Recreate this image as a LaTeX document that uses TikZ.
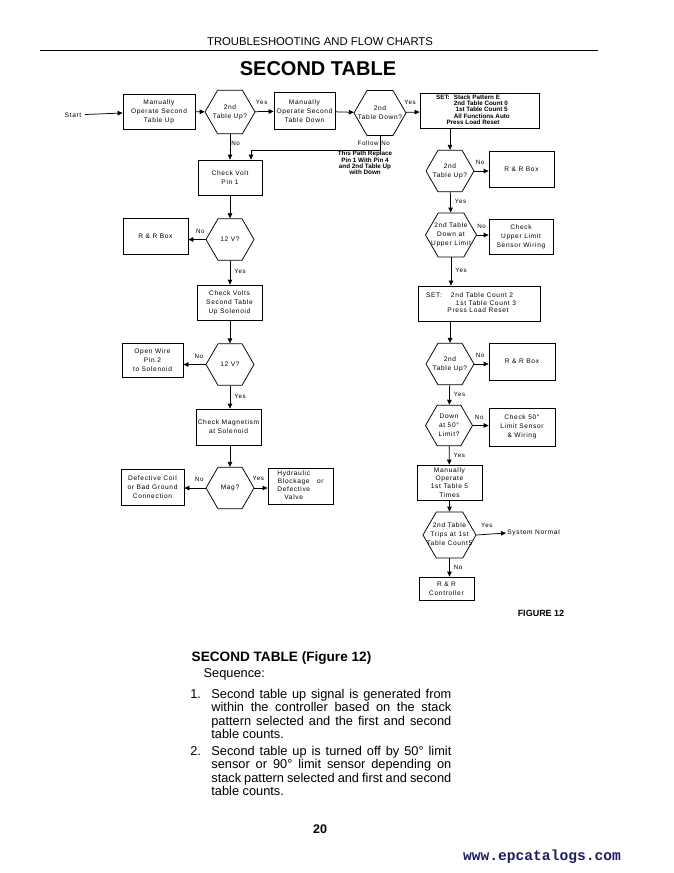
\documentclass[tikz,border=0pt]{standalone}
\usepackage{fontspec}
\setmainfont{Liberation Sans}
\newfontfamily\chartfont[LetterSpace=10]{Liberation Sans}
\newfontfamily\webfont{Liberation Mono}
\usetikzlibrary{arrows.meta}
\usetikzlibrary{shapes}
\usetikzlibrary{positioning}

\definecolor{webblue}{RGB}{30,30,95}
\newcommand{\chartsize}{\chartfont\fontsize{6.6}{8.8}\selectfont}
\newcommand{\notesize}{\bfseries\fontsize{6.3}{6.2}\selectfont}
\newcommand{\bodysize}{\fontsize{12.8}{13.5}\selectfont}
\newcommand{\hexlabel}[1]{\makebox[0pt]{\begin{tabular}{@{}c@{}}#1\end{tabular}}}

\begin{document}
\begin{tikzpicture}[x=1pt,y=-1pt]
  \tikzstyle{every path}=[line width=0.75pt]
  \tikzstyle{stepbox}=[draw,align=center,inner sep=1pt,font=\chartsize]
  \tikzstyle{testhex}=[draw,regular polygon,regular polygon sides=6,minimum size=48pt,inner sep=0pt,font=\chartsize]
  \tikzstyle{flow}=[-{Triangle[length=5pt,width=4.5pt]}]
  \tikzstyle{answer}=[font=\chartfont\fontsize{6.2}{7}\selectfont,inner sep=1pt]

  \useasboundingbox[fill=white] (0,0) rectangle (673,873);

  % page head
  \node (header) at (320,42) {\fontsize{11.3}{13}\selectfont TROUBLESHOOTING AND FLOW CHARTS};
  \draw[line width=1pt] (40,50) -- (598,50);
  \node (title) at (318,69) {\bfseries\fontsize{20}{24}\selectfont SECOND TABLE};

  % top row
  \node[font=\chartsize] (start) at (73,115) {Start};
  \node[stepbox,minimum width=72pt,minimum height=35pt] (mup) at (159,111.5) {Manually\\Operate Second\\Table Up};
  \node[testhex,minimum size=50pt] (hexup1) at (230,112) {\hexlabel{2nd\\Table Up?}};
  \node[stepbox,minimum width=61pt,minimum height=37pt] (mdown) at (304.5,111) {Manually\\Operate Second\\Table Down};
  \node[testhex,minimum size=52pt] (hexdown) at (380,113) {\hexlabel{2nd\\Table Down?}};
  \node[stepbox,minimum width=119pt,minimum height=35pt,font=\notesize] (set1) at (479.5,110.5)
    {\begin{tabular}{@{}l@{\hspace{4pt}}l@{}}SET: & Stack Pattern E\\ & 2nd Table Count 0\\ & \ 1st Table Count 5\\ & All Functions Auto\\ \multicolumn{2}{@{}c@{}}{Press Load Reset}\end{tabular}\hspace{13pt}};

  % left column
  \node[stepbox,minimum width=64pt,minimum height=35pt] (checkvolt) at (230,177.5) {Check Volt\\Pin 1};
  \node[font=\notesize,align=center] (pathnote) at (365,163) {This Path Replace\\Pin 1 With Pin 4\\and 2nd Table Up\\with Down};
  \node[testhex] (hex12a) at (230,239.5) {\hexlabel{12 V?}};
  \node[stepbox,minimum width=65pt,minimum height=36pt] (rrbox1) at (155.5,236) {R \& R Box};
  \node[stepbox,minimum width=65pt,minimum height=35pt] (cv2) at (229.5,302.5) {Check Volts\\Second Table\\Up Solenoid};
  \node[testhex] (hex12b) at (230,364.5) {\hexlabel{12 V?}};
  \node[stepbox,minimum width=61pt,minimum height=34pt] (openwire) at (152.5,360) {Open Wire\\Pin 2\\to Solenoid};
  \node[stepbox,minimum width=65pt,minimum height=36pt] (checkmag) at (228.5,427) {Check Magnetism\\at Solenoid};
  \node[testhex] (hexmag) at (230,488) {\hexlabel{Mag?}};
  \node[stepbox,minimum width=63pt,minimum height=36pt] (defcoil) at (152.5,487) {Defective Coil\\or Bad Ground\\Connection};
  \node[stepbox,minimum width=65pt,minimum height=36pt,font=\chartfont\fontsize{6.6}{8.2}\selectfont] (hydraulic) at (300.5,486)
    {\begin{tabular}{@{}c@{\hspace{7pt}}l@{}}Hydraulic & \\ Blockage & or\\ Defective & \\ Valve & \end{tabular}};

  % right column
  \node[testhex] (hexup2) at (450,171) {\hexlabel{2nd\\Table Up?}};
  \node[stepbox,minimum width=65pt,minimum height=36pt] (rrbox2) at (521.5,169) {R \& R Box};
  \node[testhex,minimum size=51pt] (hexupper) at (451,235) {\hexlabel{2nd Table\\Down at\\Upper Limit}};
  \node[stepbox,minimum width=64pt,minimum height=35pt] (upperlimit) at (521,236.5) {Check\\Upper Limit\\Sensor Wiring};
  \node[stepbox,minimum width=122pt,minimum height=35pt,font=\chartfont\fontsize{6.6}{7.5}\selectfont] (set2) at (479,303.5)
    {\begin{tabular}{@{}l@{\hspace{9pt}}l@{}}SET: & 2nd Table Count 2\\ & \hspace{5pt}1st Table Count 3\\ \multicolumn{2}{@{}c@{}}{\hspace{14pt}Press Load Reset}\end{tabular}\hspace{16pt}};
  \node[testhex] (hexup3) at (450,364) {\hexlabel{2nd\\Table Up?}};
  \node[stepbox,minimum width=66pt,minimum height=37pt] (rrbox3) at (522,361.5) {R \& R Box};
  \node[testhex,minimum size=47pt] (hex50) at (449,425.5) {\hexlabel{Down\\at 50°\\Limit?}};
  \node[stepbox,minimum width=66pt,minimum height=38pt] (check50) at (522,427) {Check 50°\\Limit Sensor\\\& Wiring};
  \node[stepbox,minimum width=65pt,minimum height=35pt,font=\chartfont\fontsize{6.6}{8.2}\selectfont] (manual5) at (449.5,482.5) {Manually\\Operate\\1st Table 5\\Times};
  \node[testhex,minimum size=53pt] (hextrips) at (449.5,535) {\hexlabel{2nd Table\\Trips at 1st\\Table Count5}};
  \node[font=\chartsize,anchor=west,inner sep=1pt] (sysnormal) at (506,533) {System Normal};
  \node[stepbox,minimum width=55pt,minimum height=23pt] (rrctrl) at (446.5,588.5) {R \& R\\Controller};
  \node[font=\bfseries\fontsize{9}{11}\selectfont] (figlabel) at (541,613) {FIGURE 12};

  % connectors
  \draw[flow] (start) -- (mup);
  \draw[flow] (mup) -- (hexup1);
  \draw[flow] (hexup1) -- node[answer,above=6pt,pos=.35]{Yes} (mdown);
  \draw[flow] (mdown) -- (hexdown);
  \draw[flow] (hexdown) -- node[answer,above=6pt,pos=.3]{Yes} (set1);
  \draw[flow] (hexup1) -- node[answer,right,pos=.35]{No} (checkvolt);
  \draw[flow] (hexdown.south) -- node[answer,left]{Follow} node[answer,right]{No} ++(0,14) -| ([xshift=21pt]checkvolt.north);
  \draw[flow] (checkvolt) -- (hex12a);
  \draw[flow] (hex12a.west) -- node[answer,above=5pt,pos=.3]{No} (hex12a.west -| rrbox1.east);
  \draw[flow] (hex12a.south) -- node[answer,right=3pt,pos=.45]{Yes} (cv2.north -| hex12a);
  \draw[flow] (cv2.south -| hex12b) -- (hex12b.north);
  \draw[flow] (hex12b.west) -- node[answer,above=5pt,pos=.3]{No} (hex12b.west -| openwire.east);
  \draw[flow] (hex12b.south) -- node[answer,right=3pt,pos=.45]{Yes} (checkmag.north -| hex12b);
  \draw[flow] (checkmag.south -| hexmag) -- (hexmag.north);
  \draw[flow] (hexmag.west) -- node[answer,above=5pt,pos=.3]{No} (hexmag.west -| defcoil.east);
  \draw[flow] (hexmag.east) -- node[answer,above=6pt,pos=.3]{Yes} (hexmag.east -| hydraulic.west);
  \draw[flow] (set1.south -| hexup2) -- (hexup2.north);
  \draw[flow] (hexup2.east) -- node[answer,above=5pt,pos=.4]{No} (hexup2.east -| rrbox2.west);
  \draw[flow] (hexup2) -- node[answer,right=3pt,pos=.45]{Yes} (hexupper);
  \draw[flow] (hexupper.east) -- node[answer,above=5pt,pos=.4]{No} (hexupper.east -| upperlimit.west);
  \draw[flow] (hexupper.south) -- node[answer,right=3pt,pos=.45]{Yes} (set2.north -| hexupper);
  \draw[flow] (set2.south -| hexup3) -- (hexup3.north);
  \draw[flow] (hexup3.east) -- node[answer,above=5pt,pos=.4]{No} (hexup3.east -| rrbox3.west);
  \draw[flow] (hexup3) -- node[answer,right=3pt,pos=.45]{Yes} (hex50);
  \draw[flow] (hex50.east) -- node[answer,above=5pt,pos=.4]{No} (hex50.east -| check50.west);
  \draw[flow] (hex50) -- node[answer,right=3pt,pos=.5]{Yes} (manual5);
  \draw[flow] (manual5) -- (hextrips);
  \draw[flow] (hextrips.east) -- node[answer,above=5pt,pos=.35]{Yes} (sysnormal.west);
  \draw[flow] (hextrips) -- node[answer,right=3pt,pos=.5]{No} (hextrips.south |- rrctrl.north);

  % sequence text
  \node[anchor=base west,font=\bfseries\fontsize{13.6}{16}\selectfont] (sectitle) at (188,661) {SECOND TABLE (Figure 12)};
  \node[anchor=base west,font=\bodysize] (sequence) at (200,677) {Sequence:};
  \node[anchor=base west,font=\bodysize,inner sep=0pt] (num1) at (190,698) {1.};
  \node[anchor=base west,font=\bodysize,text width=240pt,align=justify,inner sep=0pt] (item1) at (211,698)
    {Second table up signal is generated from\linebreak within the controller based on the stack\linebreak pattern selected and the first and second\linebreak table counts.};
  \node[anchor=base west,font=\bodysize,inner sep=0pt] (num2) at (190,755) {2.};
  \node[anchor=base west,font=\bodysize,text width=240pt,align=justify,inner sep=0pt] (item2) at (211,755)
    {Second table up is turned off by 50° limit\linebreak sensor or 90° limit sensor depending on\linebreak stack pattern selected and first and second\linebreak table counts.};

  % page foot
  \node[font=\bfseries\fontsize{12.5}{14}\selectfont] (pagenum) at (320,829) {20};
  \node[font=\webfont\bfseries\fontsize{14.6}{16}\selectfont,text=webblue] (web) at (542,857) {www.epcatalogs.com};
\end{tikzpicture}
\end{document}
